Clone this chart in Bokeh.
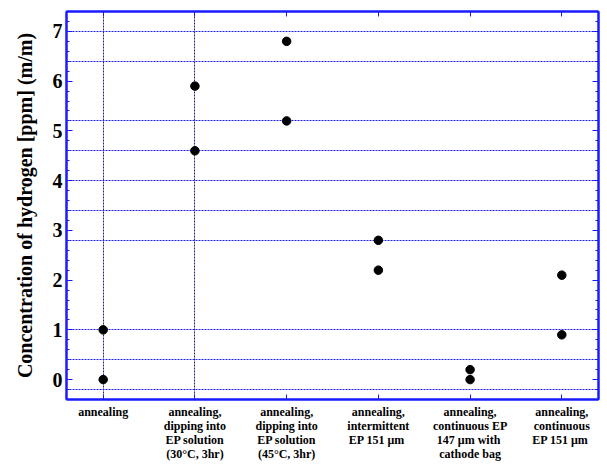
from bokeh.plotting import figure
from bokeh.models import FixedTicker, SingleIntervalTicker, LinearAxis, Range1d, CustomLabelingPolicy
from bokeh.embed import file_html
from bokeh.resources import INLINE

categories = [
    "annealing",
    "annealing,\ndipping into\nEP solution\n(30°C, 3hr)",
    "annealing,\ndipping into\nEP solution\n(45°C, 3hr)",
    "annealing,\nintermittent\nEP 151  μm",
    "annealing,\ncontinuous EP\n147  μm with\ncathode bag",
    "annealing,\ncontinuous\nEP 151  μm",
]
cat_pos = [1, 2, 3, 4, 5, 6]
first_values = [1.0, 5.9, 6.8, 2.8, 0.2, 2.1]
second_values = [0.0, 4.6, 5.2, 2.2, 0.0, 0.9]
hgrid_values = [7.0, 6.4, 5.2, 4.6, 4.0, 3.4, 2.8, 1.0, 0.4, -0.2]
vgrid_values = [1, 2]
y_label = "Concentration of hydrogen [ppm] (m/m)"

BLUE = "#1a1aff"
FONT = "Liberation Serif"

p = figure(width=607, height=465, output_backend="svg", toolbar_location=None,
           x_range=Range1d(0.6, 6.4), y_range=Range1d(-0.4, 7.4),
           min_border_left=66, min_border_right=8, min_border_top=8, min_border_bottom=66)
p.background_fill_color = "white"
p.border_fill_color = "white"
p.outline_line_color = BLUE
p.outline_line_width = 2

# grids
p.ygrid.ticker = FixedTicker(ticks=hgrid_values)
p.ygrid.grid_line_color = "#1f1fe6"
p.ygrid.grid_line_dash = "2 1"
p.ygrid.grid_line_width = 1
p.xgrid.ticker = FixedTicker(ticks=vgrid_values)
p.xgrid.grid_line_color = "#20208a"
p.xgrid.grid_line_dash = "2 1"
p.xgrid.grid_line_width = 1

# bottom axis
xa = p.xaxis[0]
xa.ticker = FixedTicker(ticks=cat_pos)
xa.major_label_overrides = {c: t for c, t in zip(cat_pos, categories)}
xa.major_label_text_font = FONT
xa.major_label_text_font_style = "bold"
xa.major_label_text_font_size = "12px"
xa.major_label_text_line_height = 1.0
xa.major_label_text_color = "black"
xa.major_label_standoff = 5
xa.major_tick_in = 5
xa.major_tick_out = 0
xa.minor_tick_in = 0
xa.minor_tick_out = 0
xa.axis_line_color = BLUE
xa.axis_line_width = 2
xa.major_tick_line_color = BLUE

# left axis
ya = p.yaxis[0]
ya.ticker = SingleIntervalTicker(interval=1, num_minor_ticks=5)
ya.major_label_text_font = FONT
ya.major_label_text_font_style = "bold"
ya.major_label_text_font_size = "20px"
ya.major_label_text_color = "black"
ya.major_label_standoff = 4
ya.major_tick_in = 6
ya.major_tick_out = 0
ya.minor_tick_in = 3
ya.minor_tick_out = 0
ya.axis_line_color = BLUE
ya.axis_line_width = 2
ya.major_tick_line_color = BLUE
ya.minor_tick_line_color = BLUE
ya.axis_label = y_label
ya.axis_label_text_font = FONT
ya.axis_label_text_font_style = "bold"
ya.axis_label_text_font_size = "20px"
ya.axis_label_text_color = "black"
ya.axis_label_standoff = 14

# right axis (ticks only)
ra = LinearAxis(ticker=SingleIntervalTicker(interval=1, num_minor_ticks=5))
ra.major_label_policy = CustomLabelingPolicy(code="return new Set()")
ra.major_label_standoff = 0
ra.major_tick_in = 6
ra.major_tick_out = 0
ra.minor_tick_in = 3
ra.minor_tick_out = 0
ra.axis_line_color = BLUE
ra.axis_line_width = 2
ra.major_tick_line_color = BLUE
ra.minor_tick_line_color = BLUE
p.add_layout(ra, "right")

# top axis (ticks only)
ta = LinearAxis(ticker=FixedTicker(ticks=cat_pos))
ta.major_label_policy = CustomLabelingPolicy(code="return new Set()")
ta.major_label_standoff = 0
ta.major_tick_in = 5
ta.major_tick_out = 0
ta.minor_tick_in = 0
ta.minor_tick_out = 0
ta.axis_line_color = BLUE
ta.axis_line_width = 2
ta.major_tick_line_color = BLUE
p.add_layout(ta, "above")

p.scatter(cat_pos, first_values, size=8.5, color="black")
p.scatter(cat_pos, second_values, size=8.5, color="black")

open("out.html", "w").write(file_html(p, INLINE))
